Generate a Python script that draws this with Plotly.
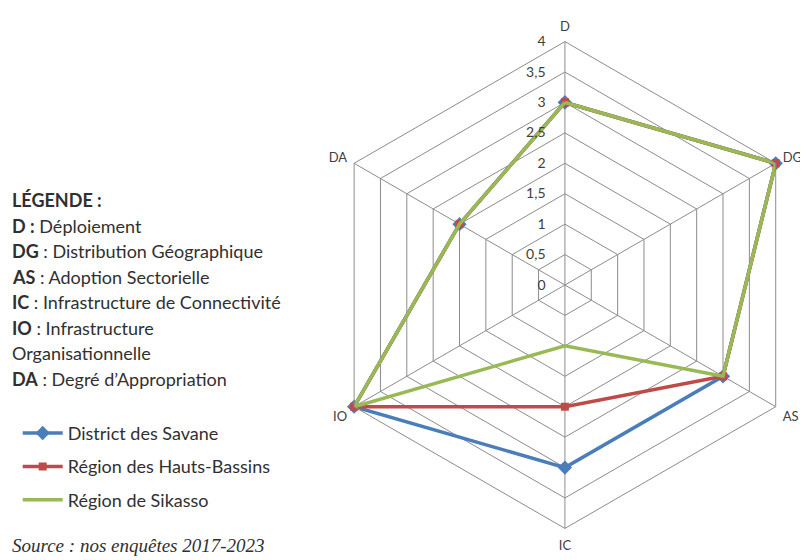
import plotly.graph_objects as go

axes = ["D", "DG", "AS", "IC", "IO", "DA"]
savane = [3, 4, 3, 3, 4, 2]
hauts_bassins = [3, 4, 3, 2, 4, 2]
sikasso = [3, 4, 3, 1, 4, 2]
tick_vals = [0, 0.5, 1, 1.5, 2, 2.5, 3, 3.5, 4]
tick_text = ["0", "0,5", "1", "1,5", "2", "2,5", "3", "3,5", "4"]

legend_lines = [
    "<b>LÉGENDE :</b>",
    "<b>D :</b> Déploiement",
    "<b>DG</b> : Distribution Géographique",
    "<b>AS</b> : Adoption Sectorielle",
    "<b>IC</b> : Infrastructure de Connectivité",
    "<b>IO</b> : Infrastructure",
    "Organisationnelle",
    "<b>DA</b> : Degré d’Appropriation",
]

def closed(v):
    return v + v[:1]

th = closed(axes)
FONT = "Lato, Open Sans, sans-serif"

fig = go.Figure()
fig.add_trace(go.Scatterpolar(
    r=closed(savane), theta=th, mode="lines+markers", name="District des Savane",
    legendgroup="a",
    line=dict(color="#4a7ebb", width=3.5),
    marker=dict(symbol="diamond", size=11, color="#4a7ebb"),
))
fig.add_trace(go.Scatterpolar(
    r=closed(hauts_bassins), theta=th, mode="lines+markers", name="Région des Hauts-Bassins",
    legendgroup="b",
    line=dict(color="#be4b48", width=3.5),
    marker=dict(symbol="square", size=8, color="#be4b48"),
))
fig.add_trace(go.Scatterpolar(
    r=closed(sikasso), theta=th, mode="lines", name="Région de Sikasso",
    legendgroup="c",
    line=dict(color="#98b954", width=3.5),
))

fig.update_layout(
    width=808, height=560,
    margin=dict(l=0, r=0, t=0, b=0),
    paper_bgcolor="white",
    plot_bgcolor="white",
    font=dict(family=FONT, size=12, color="#404040"),
    polar=dict(
        domain=dict(x=[0.388, 0.9905], y=[0.0687, 0.942]),
        gridshape="linear",
        bgcolor="white",
        radialaxis=dict(
            range=[0, 4], tickvals=tick_vals, ticktext=tick_text,
            angle=90, tickangle=90, side="counterclockwise",
            showline=False, ticks="outside", ticklen=14, tickcolor="rgba(0,0,0,0)",
            gridcolor="#8c8c8c", gridwidth=1,
            tickfont=dict(size=14, color="#404040", family=FONT),
        ),
        angularaxis=dict(
            rotation=90, direction="clockwise",
            showline=True, linecolor="#8c8c8c", linewidth=1,
            gridcolor="#8c8c8c", gridwidth=1,
            ticks="outside", ticklen=5, tickcolor="rgba(0,0,0,0)",
            tickfont=dict(size=13, color="#404040", family=FONT),
        ),
    ),
    legend=dict(
        x=0.012, y=0.2736, xanchor="left", yanchor="top",
        font=dict(size=18, color="#303030", family=FONT),
        tracegroupgap=7, itemwidth=40, traceorder="grouped",
        bgcolor="rgba(0,0,0,0)",
    ),
    showlegend=True,
)

y0 = 192
for i, t in enumerate(legend_lines):
    fig.add_annotation(
        x=2, y=y0 + i * 25.5, xref="paper", yref="paper", text=t,
        showarrow=False, xanchor="left", yanchor="middle",
        font=dict(size=18, color="#303030", family=FONT),
    )

fig.add_annotation(
    x=2, y=537, text="<i>Source : nos enquêtes 2017-2023</i>", showarrow=False,
    xanchor="left", yanchor="middle", font=dict(size=19, color="#303030", family="Liberation Serif, serif"),
)

# convert pixel positions to paper coordinates
for a in fig.layout.annotations:
    a.x = a.x / 808
    a.y = 1 - a.y / 560

fig.write_html("out.html")
